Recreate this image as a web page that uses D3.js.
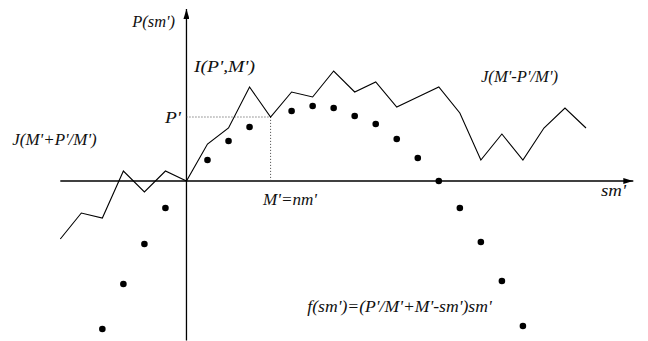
<!DOCTYPE html>
<html>
<head>
<meta charset="utf-8">
<script src="https://cdn.jsdelivr.net/npm/d3@7/dist/d3.min.js"></script>
<style>
html,body{margin:0;padding:0;background:#fff;}
svg{display:block;}
text{font-family:"Liberation Serif","Times New Roman",serif;font-style:italic;font-size:16px;fill:#111;}
</style>
</head>
<body>
<svg id="chart" width="648" height="341"></svg>
<script>
// Series: profile line J/I (in sm' steps) and parabola f(sm') dots
const lineSteps = [-6,-5,-4,-3,-2,-1,0,1,2,3,4,5,6,7,8,9,10,11,12,13,14,15,16,17,18,19];
const lineValues = [-5.8,-3.2,-3.7,1.0,-1.1,1.0,0,3.7,5.3,9.4,6.4,8.9,8.4,11.0,8.9,9.9,7.4,8.4,9.4,6.8,2.1,4.7,2.1,5.3,7.3,5.3];
const dotSteps = [-4,-3,-2,-1,1,2,3,5,6,7,8,9,10,11,12,13,14,15,16];
const dotValues = [-14.8,-10.3,-6.3,-2.7,2.1,4.0,5.4,7.0,7.5,7.3,6.5,5.7,4.2,2.3,0,-2.7,-6.1,-10.0,-14.5];
// Marked point (M', P')
const markStep = 4;
const markValue = 6.4;
// Labels
const labelTexts = ["P(sm')","I(P',M')","P'","J(M'+P'/M')","J(M'-P'/M')","M'=nm'","sm'","f(sm')=(P'/M'+M'-sm')sm'"];

const svg = d3.select("#chart");
const x = d3.scaleLinear().domain([-6,19]).range([60.3,586]);
const y = d3.scaleLinear().domain([-16,17.3]).range([341,8]);

svg.append("defs").append("marker")
  .attr("id","arr").attr("viewBox","0 0 10 6").attr("refX",10).attr("refY",3)
  .attr("markerWidth",10).attr("markerHeight",6).attr("markerUnits","userSpaceOnUse")
  .attr("orient","auto")
  .append("path").attr("d","M0,0L10,3L0,6Z").attr("fill","#000");

svg.append("line").attr("x1",x(-6)).attr("x2",x(21.25)).attr("y1",y(0)).attr("y2",y(0))
  .attr("stroke","#000").attr("stroke-width",1.3).attr("marker-end","url(#arr)");
svg.append("line").attr("x1",x(0)).attr("x2",x(0)).attr("y1",y(-15.95)).attr("y2",y(17.2))
  .attr("stroke","#000").attr("stroke-width",1.3).attr("marker-end","url(#arr)");

svg.append("path")
  .attr("d",`M${x(0)},${y(markValue)}H${x(markStep)}V${y(0)}`)
  .attr("fill","none").attr("stroke","#444").attr("stroke-width",1).attr("stroke-dasharray","1,2");

const pts = lineSteps.map((s,i)=>[s,lineValues[i]]);
svg.append("path").datum(pts)
  .attr("d", d3.line().x(d=>x(d[0])).y(d=>y(d[1])))
  .attr("fill","none").attr("stroke","#000").attr("stroke-width",1.1).attr("stroke-linejoin","miter");

svg.selectAll("circle.d").data(dotSteps.map((s,i)=>[s,dotValues[i]])).enter()
  .append("circle").attr("class","d")
  .attr("cx",d=>x(d[0])).attr("cy",d=>y(d[1])).attr("r",3.3).attr("fill","#000");

const labelPos = [
  [0,132.3,26.7,42.7],
  [1,194,71.5,61],
  [2,165,123,16],
  [3,12.3,145,84.4],
  [4,481,81.5,77],
  [5,263,205,54],
  [6,601,196,25],
  [7,307.3,311.5,184.4]
];
svg.selectAll("text.l").data(labelPos).enter().append("text").attr("class","l")
  .attr("x",d=>d[1]).attr("y",d=>d[2])
  .attr("textLength",d=>d[3]).attr("lengthAdjust","spacingAndGlyphs")
  .text(d=>labelTexts[d[0]]);
</script>
</body>
</html>
